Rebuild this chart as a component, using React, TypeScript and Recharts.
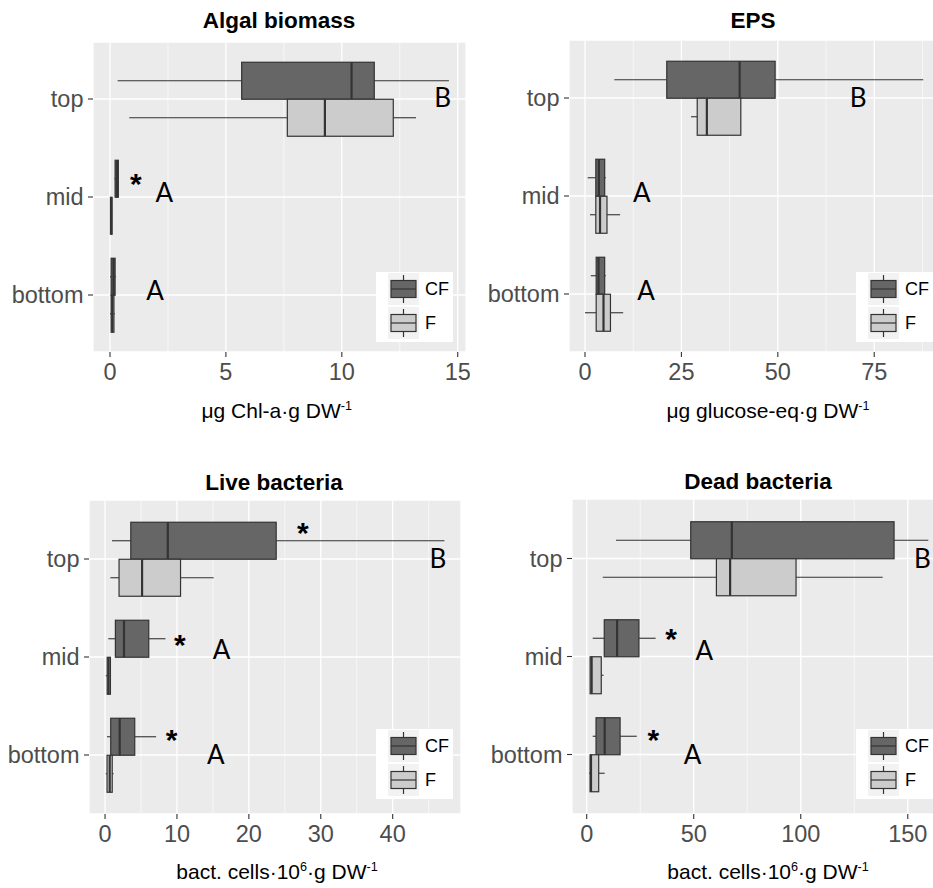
import React from 'react';
import { ComposedChart, Bar, XAxis, YAxis, CartesianGrid, ReferenceDot, Legend } from 'recharts';

// ---------- data ----------
const categories = ['top', 'mid', 'bottom'];
const seriesNames = ['CF', 'F'];

// each row: [min, Q1, median, Q3, max] for top, mid, bottom
const algalCF = [
  [0.33, 5.68, 10.42, 11.4, 14.62],
  [0.19, 0.22, 0.3, 0.36, 0.37],
  [0.0, 0.05, 0.15, 0.22, 0.26],
];
const algalF = [
  [0.83, 7.65, 9.27, 12.22, 13.2],
  [0.0, 0.02, 0.05, 0.09, 0.1],
  [0.0, 0.05, 0.1, 0.17, 0.21],
];
const epsCF = [
  [7.6, 21.2, 40.1, 49.3, 87.7],
  [0.7, 2.8, 3.6, 5.1, 5.4],
  [1.5, 2.9, 3.5, 5.1, 5.4],
];
const epsF = [
  [27.5, 29.1, 31.6, 40.4, 40.4],
  [1.3, 2.8, 3.9, 5.7, 9.1],
  [0.0, 2.9, 4.8, 6.6, 9.9],
];
const liveCF = [
  [0.97, 3.58, 8.73, 23.8, 47.2],
  [0.46, 1.44, 2.64, 6.08, 8.4],
  [0.28, 0.79, 2.04, 4.13, 7.1],
];
const liveF = [
  [0.75, 1.95, 5.15, 10.5, 15.1],
  [0.1, 0.3, 0.5, 0.75, 0.8],
  [0.1, 0.28, 0.65, 1.0, 1.2],
];
const deadCF = [
  [13.7, 48.6, 67.8, 143.6, 159.6],
  [2.8, 8.2, 14.2, 24.4, 32.2],
  [2.8, 4.35, 8.4, 15.6, 23.4],
];
const deadF = [
  [7.5, 60.6, 67.0, 97.8, 138.3],
  [1.5, 1.6, 2.3, 6.8, 7.9],
  [1.1, 1.6, 2.0, 5.6, 8.4],
];

const algalTicks = [0, 5, 10, 15];
const algalMinor = [2.5, 7.5, 12.5];
const epsTicks = [0, 25, 50, 75];
const epsMinor = [12.5, 37.5, 62.5, 87.5];
const liveTicks = [0, 10, 20, 30, 40];
const liveMinor = [5, 15, 25, 35, 45];
const deadTicks = [0, 50, 100, 150];
const deadMinor = [25, 75, 125];

// annotation letters / significance stars (x in data units)
const algalMarks = [
  { cat: 'top', x: 14.35, text: 'B', dy: -1 },
  { cat: 'mid', x: 1.12, text: '*', dy: -20 },
  { cat: 'mid', x: 2.34, text: 'A', dy: -4.5 },
  { cat: 'bottom', x: 1.94, text: 'A', dy: -4 },
];
const epsMarks = [
  { cat: 'top', x: 70.8, text: 'B', dy: 0 },
  { cat: 'mid', x: 14.7, text: 'A', dy: -3 },
  { cat: 'bottom', x: 15.8, text: 'A', dy: -3 },
];
const liveMarks = [
  { cat: 'top', x: 27.5, text: '*', dy: -33 },
  { cat: 'top', x: 46.3, text: 'B', dy: 0 },
  { cat: 'mid', x: 10.4, text: '*', dy: -19 },
  { cat: 'mid', x: 16.2, text: 'A', dy: -7 },
  { cat: 'bottom', x: 9.24, text: '*', dy: -22 },
  { cat: 'bottom', x: 15.4, text: 'A', dy: 0 },
];
const deadMarks = [
  { cat: 'top', x: 156.8, text: 'B', dy: 0 },
  { cat: 'mid', x: 39.4, text: '*', dy: -24 },
  { cat: 'mid', x: 55, text: 'A', dy: -6 },
  { cat: 'bottom', x: 31.1, text: '*', dy: -21 },
  { cat: 'bottom', x: 49.5, text: 'A', dy: 0 },
];

// ---------- styles ----------
const FONT = '"Liberation Sans", Arial, Helvetica, sans-serif';
const MARK_FONT = 'Lato, "Open Sans", sans-serif';
const CF_FILL = '#666666';
const F_FILL = '#cccccc';
const LINE = '#333333';
const fills: Record<string, string> = { CF: CF_FILL, F: F_FILL };

const Sup = ({ children }: { children: React.ReactNode }) => (
  <span style={{ fontSize: '0.6em', position: 'relative', top: '-0.62em' }}>{children}</span>
);

function BoxShape(props: any) {
  const { x, y, width, height, stats, fill } = props;
  if (!stats || ![x, y, width, height].every((v: any) => Number.isFinite(v))) return null;
  const [mn, q1, md, q3, mx] = stats;
  const span = mx - mn || 1;
  const px = (v: number) => x + ((v - mn) / span) * width;
  const cy = y + height / 2;
  return (
    <g>
      <line x1={px(mn)} x2={px(q1)} y1={cy} y2={cy} stroke={LINE} strokeWidth={1.1} />
      <line x1={px(q3)} x2={px(mx)} y1={cy} y2={cy} stroke={LINE} strokeWidth={1.1} />
      <rect
        x={px(q1)}
        y={y}
        width={Math.max(px(q3) - px(q1), 0.5)}
        height={height}
        fill={fill}
        stroke={LINE}
        strokeWidth={1.2}
      />
      <line x1={px(md)} x2={px(md)} y1={y} y2={y + height} stroke={LINE} strokeWidth={2.2} />
    </g>
  );
}

function LegendContent(props: any) {
  const payload = (props && props.payload) || [];
  const names: string[] = payload.length ? payload.map((p: any) => String(p.value)) : seriesNames;
  return (
    <div style={{ background: '#ffffff', width: 77, height: 70, position: 'relative' }}>
      {names.map((n, i) => (
        <div
          key={n}
          style={{ position: 'absolute', left: 12, top: 1 + i * 34, height: 32, display: 'flex', alignItems: 'center' }}
        >
          <svg width={31} height={32} style={{ display: 'block' }}>
            <rect width={31} height={32} fill="#f2f2f2" />
            <line x1={15.5} x2={15.5} y1={2} y2={30} stroke={LINE} strokeWidth={1.2} />
            <rect x={3} y={7.5} width={25} height={17} fill={fills[n] || '#999'} stroke={LINE} strokeWidth={1.2} />
            <line x1={3} x2={28} y1={16} y2={16} stroke={LINE} strokeWidth={1.2} />
          </svg>
          <span style={{ marginLeft: 6, fontSize: 18, fontFamily: FONT, color: '#000', lineHeight: '18px' }}>{n}</span>
        </div>
      ))}
    </div>
  );
}

const markShape = (m: { text: string; dy: number }) => (p: any) => {
  const isStar = m.text === '*';
  const fs = isStar ? 30 : 26;
  const base = isStar ? fs * 0.55 : fs * 0.36;
  if (!Number.isFinite(p.cx) || !Number.isFinite(p.cy)) return <g />;
  return (
    <text
      x={p.cx}
      y={p.cy + m.dy + base}
      textAnchor="middle"
      fontSize={fs}
      fontWeight={isStar ? 'bold' : 'normal'}
      fontFamily={isStar ? FONT : MARK_FONT}
      fill="#000000"
    >
      {m.text}
    </text>
  );
};

const panels = [
  {
    key: 'algal', title: 'Algal biomass', axisTitle: <>μg Chl-a·g DW<Sup>-1</Sup></>,
    cf: algalCF, f: algalF, domain: [-0.733, 15.357], ticks: algalTicks, minor: algalMinor, marks: algalMarks,
    left: 0, top: 0, width: 470, height: 430, mTop: 42, mRight: 4, yW: 93, xH: 78, pad: 8,
    legLeft: 376, legTop: 272, titleX: 279, titleY: 20.5, axX: 276.7, axY: 412,
  },
  {
    key: 'eps', title: 'EPS', axisTitle: <>μg glucose-eq·g DW<Sup>-1</Sup></>,
    cf: epsCF, f: epsF, domain: [-4.15, 93.35], ticks: epsTicks, minor: epsMinor, marks: epsMarks,
    left: 470, top: 0, width: 476, height: 430, mTop: 40, mRight: 1, yW: 99, xH: 78, pad: 9,
    legLeft: 386, legTop: 272, titleX: 753, titleY: 20.5, axX: 768, axY: 412,
  },
  {
    key: 'live', title: 'Live bacteria', axisTitle: <>bact. cells·10<Sup>6</Sup>·g DW<Sup>-1</Sup></>,
    cf: liveCF, f: liveF, domain: [-2.23, 49.5], ticks: liveTicks, minor: liveMinor, marks: liveMarks,
    left: 0, top: 450, width: 470, height: 438, mTop: 50, mRight: 9, yW: 89, xH: 74, pad: 10,
    legLeft: 376, legTop: 279, titleX: 274, titleY: 483, axX: 277, axY: 873,
  },
  {
    key: 'dead', title: 'Dead bacteria', axisTitle: <>bact. cells·10<Sup>6</Sup>·g DW<Sup>-1</Sup></>,
    cf: deadCF, f: deadF, domain: [-6.87, 167.4], ticks: deadTicks, minor: deadMinor, marks: deadMarks,
    left: 470, top: 450, width: 476, height: 438, mTop: 49, mRight: 1, yW: 102, xH: 74, pad: 10.5,
    legLeft: 386, legTop: 279, titleX: 758, titleY: 482, axX: 768, axY: 873,
  },
];

function Panel({ cfg }: { cfg: any }) {
  const rows = categories.map((c, i) => ({ cat: c, cf: cfg.cf[i], f: cfg.f[i] }));
  const [d0, d1] = cfg.domain;
  const minorGen = (arg: any) => {
    const xAxis = arg && arg.xAxis;
    const off = (arg && arg.offset) || {};
    const sc = xAxis && typeof xAxis.scale === 'function' ? xAxis.scale : null;
    return cfg.minor.map((v: number) =>
      sc ? sc(v) : (off.left || 0) + ((v - d0) / (d1 - d0)) * (off.width || 0)
    );
  };
  return (
    <div style={{ position: 'absolute', left: cfg.left, top: cfg.top }}>
      <ComposedChart
        width={cfg.width}
        height={cfg.height}
        data={rows}
        layout="vertical"
        margin={{ top: cfg.mTop, right: cfg.mRight, bottom: 0, left: 0 }}
        barCategoryGap="12.5%"
        barGap={0}
      >
        <CartesianGrid fill="#ebebeb" fillOpacity={1} stroke="#ffffff" strokeWidth={1.3} />
        <CartesianGrid
          horizontal={false}
          stroke="#ffffff"
          strokeWidth={0.6}
          verticalCoordinatesGenerator={minorGen}
        />
        <XAxis
          type="number"
          domain={cfg.domain}
          ticks={cfg.ticks}
          allowDataOverflow
          axisLine={false}
          tickLine={{ stroke: LINE, strokeWidth: 1.1 }}
          tickSize={5}
          tickMargin={6}
          height={cfg.xH}
          interval={0}
          tick={{ fill: '#4d4d4d', fontSize: 23.5, fontFamily: FONT }}
        />
        <YAxis
          type="category"
          dataKey="cat"
          width={cfg.yW}
          padding={{ top: cfg.pad, bottom: cfg.pad }}
          axisLine={false}
          tickLine={{ stroke: LINE, strokeWidth: 1.1 }}
          tickSize={5}
          tickMargin={4.5}
          interval={0}
          tick={{ fill: '#4d4d4d', fontSize: 23.5, fontFamily: FONT }}
        />
        <Bar
          name="CF"
          dataKey={(d: any) => [d.cf[0], d.cf[4]]}
          fill={CF_FILL}
          isAnimationActive={false}
          shape={(p: any) => <BoxShape {...p} stats={p.payload && p.payload.cf} fill={CF_FILL} />}
        />
        <Bar
          name="F"
          dataKey={(d: any) => [d.f[0], d.f[4]]}
          fill={F_FILL}
          isAnimationActive={false}
          shape={(p: any) => <BoxShape {...p} stats={p.payload && p.payload.f} fill={F_FILL} />}
        />
        {cfg.marks.map((m: any, i: number) => (
          <ReferenceDot
            key={i}
            x={m.x}
            y={m.cat}
            r={0}
            ifOverflow="visible"
            shape={markShape(m)}
          />
        ))}
        <Legend
          layout="vertical"
          align="center"
          verticalAlign="middle"
          width={77}
          height={70}
          wrapperStyle={{ left: cfg.legLeft, top: cfg.legTop, width: 77, height: 70 }}
          content={(p: any) => <LegendContent {...p} />}
        />
      </ComposedChart>
    </div>
  );
}

export default function App() {
  return (
    <div
      style={{
        position: 'absolute',
        left: 0,
        top: 0,
        width: 933,
        height: 888,
        overflow: 'hidden',
        background: '#ffffff',
      }}
    >
      {panels.map((cfg) => (
        <Panel key={cfg.key} cfg={cfg} />
      ))}
      {panels.map((cfg) => (
        <div
          key={cfg.key + '-title'}
          style={{
            position: 'absolute',
            left: cfg.titleX,
            top: cfg.titleY,
            transform: 'translate(-50%, -50%)',
            fontFamily: FONT,
            fontWeight: 'bold',
            fontSize: 22.5,
            lineHeight: '22px',
            color: '#000',
            whiteSpace: 'nowrap',
          }}
        >
          {cfg.title}
        </div>
      ))}
      {panels.map((cfg) => (
        <div
          key={cfg.key + '-axis'}
          style={{
            position: 'absolute',
            left: cfg.axX,
            top: cfg.axY,
            transform: 'translate(-50%, -50%)',
            fontFamily: FONT,
            fontSize: 21,
            lineHeight: '21px',
            color: '#000',
            whiteSpace: 'nowrap',
          }}
        >
          {cfg.axisTitle}
        </div>
      ))}
    </div>
  );
}
